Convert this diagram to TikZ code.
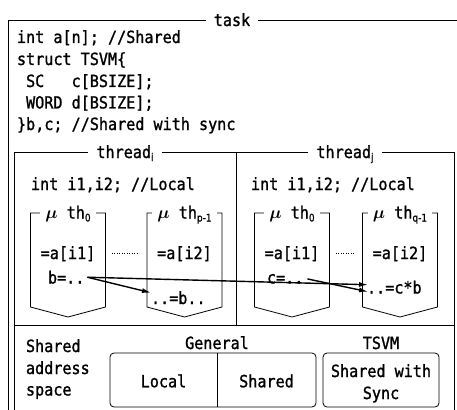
\documentclass[tikz,border=0pt]{standalone}
\usepackage{fontspec}
\setmonofont[FakeStretch=0.9, FakeBold=1.2]{DejaVu Sans Mono}
\newfontfamily\subfont[FakeStretch=0.85, FakeBold=1]{DejaVu Sans}
\usetikzlibrary{arrows.meta}

% lowered small subscript used in the labels
\newcommand{\lowsub}[1]{\raisebox{-3pt}{\subfont\fontsize{10.5}{10.5}\selectfont #1}}
% slanted mu of the micro-thread labels
\newcommand{\mumark}{{\fontsize{17}{17}\selectfont\boldmath$\mu$}}

\begin{document}
\begin{tikzpicture}[x=1pt,y=-1pt,
  every node/.style={inner sep=0pt, outer sep=0pt,
    font=\ttfamily\fontsize{16.8}{22}\selectfont},
  frame/.style={line width=0.8pt},
  legend/.style={fill=white, inner xsep=5pt, inner ysep=2pt, anchor=base},
  title/.style={legend, inner xsep=8pt},
  codeline/.style={anchor=base west},
  ptr/.style={line width=1.4pt, -{Latex[length=9pt,width=5pt]}},
  gap/.style={dotted, line width=0.5pt},
  pool/.style={draw, rounded corners=4pt, line width=0.8pt},
  uthread/.pic={
    \draw[frame] (-37.5,0) -- (-37.5,94) -- (0,104) -- (37.5,94) -- (37.5,0) -- cycle;
    \coordinate (-l) at (-37.5,40);
    \coordinate (-r) at (37.5,40);
  }]

\fill[white] (0,0) rectangle (457,409);
\useasboundingbox (0,0) rectangle (457,409);

% task frame
\draw[frame] (457,20) -- (8,20) -- (8,412);
\node[title] (task) at (232,26) {task};

% shared declarations
\node[codeline] (l1) at (17,43)  {int~a[n];~//Shared};
\node[codeline] (l2) at (17,65)  {struct~TSVM\{};
\node[codeline] (l3) at (17,87)  {~SC~~~c[BSIZE];};
\node[codeline] (l4) at (17,108.5) {~WORD~d[BSIZE];};
\node[codeline] (l5) at (17,130) {\}b,c;~//Shared~with~sync};

% thread panels and address-space panel
\draw[frame] (14,412) -- (14,152) -- (454,152) -- (454,412);
\draw[frame] (236,152) -- (236,325);
\draw[frame] (14,325) -- (454,325);
\node[title] (thi) at (125,158) {thread\lowsub{i}};
\node[title] (thj) at (345,158) {thread\lowsub{j}};

\node[codeline] (loci) at (31,190)  {int~i1,i2;~//Local};
\node[codeline] (locj) at (251,190) {int~i1,i2;~//Local};

% micro-threads
\pic (ua) at (68,213) {uthread};
\pic (ub) at (184.5,213) {uthread};
\pic (uc) at (292,213) {uthread};
\pic (ud) at (400,213) {uthread};
\node[legend] (ui0) at (68,218.5)    {\mumark~th\lowsub{0}};
\node[legend] (uip) at (184.5,218.5) {\mumark~th\lowsub{p-1}};
\node[legend] (uj0) at (292,218.5)   {\mumark~th\lowsub{0}};
\node[legend] (ujq) at (400,218.5)   {\mumark~th\lowsub{q-1}};

\node[anchor=base] (ai1) at (68,259)    {=a[i1]};
\node[anchor=base] (ai2) at (184.5,259) {=a[i2]};
\node[anchor=base] (aj1) at (292,259)   {=a[i1]};
\node[anchor=base] (aj2) at (400,259)   {=a[i2]};
\draw[gap] ([xshift=6pt]ua-r |- ai1.center) -- ([xshift=-8pt]ub-l |- ai1.center);
\draw[gap] ([xshift=6pt]uc-r |- aj1.center) -- ([xshift=-8pt]ud-l |- aj1.center);

\node[codeline] (bw) at (48,283.5)  {b=..};
\node[codeline] (bu) at (151,304)   {..=b..};
\node[codeline] (cw) at (267,283.5) {c=..};
\node[codeline] (cu) at (367,293.5) {..=c*b};

\draw[ptr] ([shift={(3,0)}]bw.east) -- ([shift={(0,-5)}]bu.west);
\draw[ptr] ([shift={(3,0)}]bw.east) -- ([shift={(1,-2.5)}]cu.west);
\draw[ptr] ([shift={(4,0)}]cw.east) -- ([shift={(1,4.5)}]cu.west);

% address-space classes
\node[codeline] (as1) at (26,352) {Shared};
\node[codeline] (as2) at (26,374) {address};
\node[codeline] (as3) at (26,395.5) {space};

\node[anchor=base] (gen) at (217,349) {General};
\node[anchor=base] (tsv) at (381,349) {TSVM};

\node[pool, minimum width=206pt, minimum height=54pt] (genbox) at (213,380) {};
\draw[frame] ([xshift=4pt]genbox.north) -- ([xshift=4pt]genbox.south);
\node (loc) at (163.5,381) {Local};
\node (shd) at (266.5,381) {Shared};

\node[pool, minimum width=116pt, minimum height=54pt] (tsvbox) at (381,380) {};
\node[anchor=base] (sw1) at (381,377) {Shared~with};
\node[anchor=base] (sw2) at (381,399) {Sync};

\end{tikzpicture}
\end{document}
